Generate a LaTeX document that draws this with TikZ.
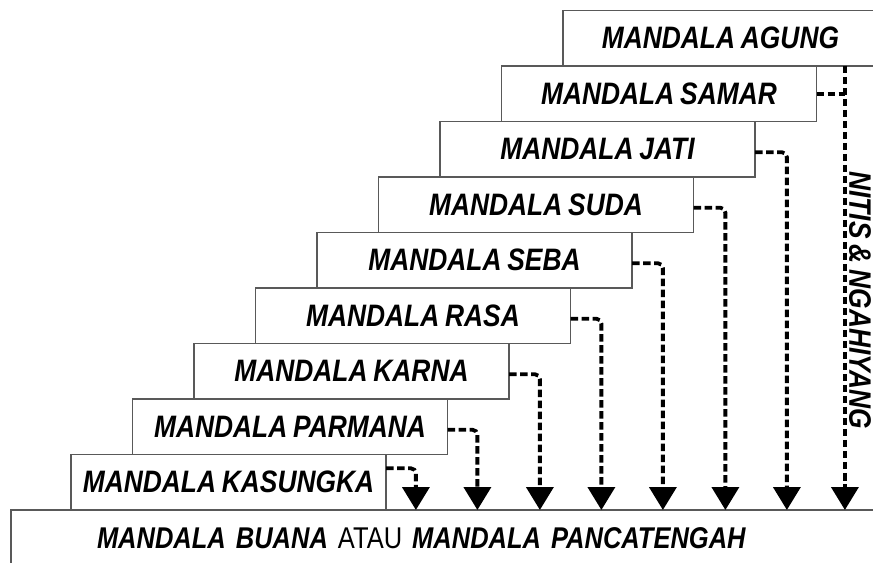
\documentclass[tikz,border=0pt]{standalone}
\usepackage{fontspec}
\newfontfamily\mandalafont[FakeStretch=0.85, WordSpace=0.8]{Liberation Sans}
\usetikzlibrary{positioning}
\usetikzlibrary{arrows.meta}
\usetikzlibrary{calc}

\begin{document}
\begin{tikzpicture}[
  x=1bp, y=1bp,
  font=\mandalafont\bfseries\itshape\fontsize{31bp}{33bp}\selectfont,
  box/.style={
    draw=black!65, line width=1.3bp, fill=white,
    anchor=north west,
    minimum width=315bp, minimum height=55.5bp,
    inner sep=0pt, outer sep=0pt
  },
  link/.style={line width=3.8bp, dash pattern=on 7.5bp off 3.5bp, rounded corners=5bp},
  arrow/.style={link, -{Triangle[length=23bp, width=27bp]}},
  side/.style={rotate=-90}
]

\clip (0,0) rectangle (873,563);

% --- Staircase of mandalas ---
\node[box] (agung) at (563,552.5) {MANDALA AGUNG};
\node[box] (samar) at ($(agung.south west)+(-61.5,0)$) {MANDALA SAMAR};
\node[box] (jati) at ($(samar.south west)+(-61.5,0)$) {MANDALA JATI};
\node[box] (suda) at ($(jati.south west)+(-61.5,0)$) {MANDALA SUDA};
\node[box] (seba) at ($(suda.south west)+(-61.5,0)$) {MANDALA SEBA};
\node[box] (rasa) at ($(seba.south west)+(-61.5,0)$) {MANDALA RASA};
\node[box] (karna) at ($(rasa.south west)+(-61.5,0)$) {MANDALA KARNA};
\node[box] (parmana) at ($(karna.south west)+(-61.5,0)$) {MANDALA PARMANA};
\node[box] (kasungka) at ($(parmana.south west)+(-61.5,0)$) {MANDALA KASUNGKA};

% --- Base (runs off the page) ---
\node[box, minimum height=57bp, text width=800bp, inner xsep=86bp, align=left,
      font=\mandalafont\bfseries\itshape\fontsize{30bp}{32bp}\selectfont] (buana)
  at ($(kasungka.south west)+(-60,0)$)
  {MANDALA BUANA {\mdseries\upshape ATAU} MANDALA PANCATENGAH};

% --- Dashed links down to the base ---
\draw[arrow] ([yshift=14]kasungka.east) -| ([xshift=30]kasungka.east |- buana.north);
\draw[arrow] ([yshift=-3]parmana.east) -| ([xshift=30]parmana.east |- buana.north);
\draw[arrow] ([yshift=-3]karna.east) -| ([xshift=31]karna.east |- buana.north);
\draw[arrow] ([yshift=-3]rasa.east) -| ([xshift=31]rasa.east |- buana.north);
\draw[arrow] ([yshift=-3]seba.east) -| ([xshift=31]seba.east |- buana.north);
\draw[arrow] ([yshift=-3]suda.east) -| ([xshift=32]suda.east |- buana.north);
\draw[arrow] ([yshift=-3]jati.east) -| ([xshift=32]jati.east |- buana.north);
\draw[link] (samar.east) -- ([xshift=28.5]samar.east);
\draw[arrow] ([xshift=28.5]samar.north east) -- ([xshift=28.5]samar.east |- buana.north);

% --- Side label ---
\node[side, inner sep=1pt] (nitis) at (860,263) {NITIS \& NGAHIYANG};

\end{tikzpicture}
\end{document}
